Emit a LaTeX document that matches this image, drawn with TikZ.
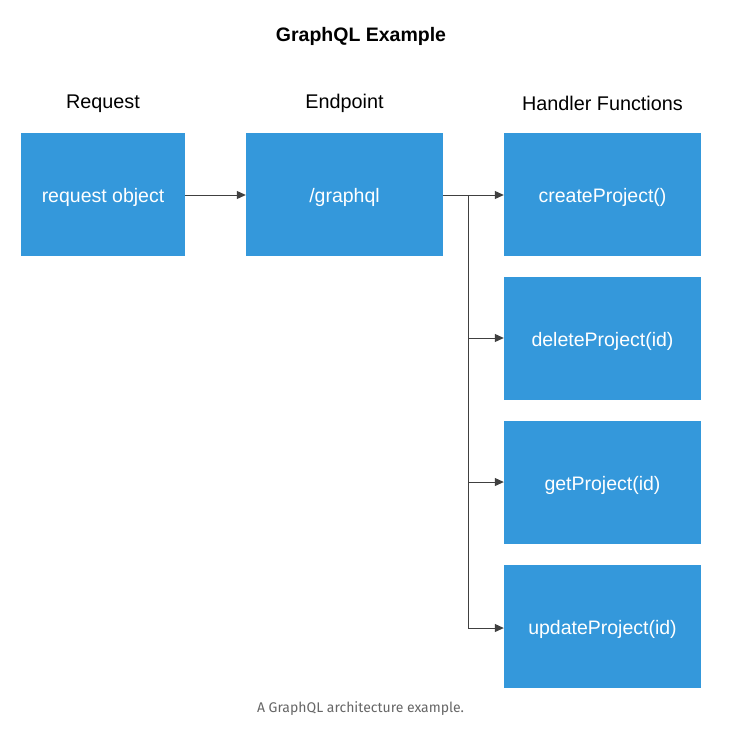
\documentclass[tikz,border=0pt]{standalone}
\usepackage{fontspec}
\setmainfont{Liberation Sans}
\newfontfamily\capfont{Fira Sans}
\usetikzlibrary{arrows.meta}
\definecolor{boxblue}{HTML}{3498DB}
\definecolor{capgray}{HTML}{666666}
\begin{document}
\begin{tikzpicture}[x=1pt,y=-1pt,
  blk/.style={fill=boxblue,draw=none,text=white,minimum width=197pt,minimum height=123pt,inner sep=0pt,text height=17pt,text depth=1pt,font=\fontsize{19.5}{23}\selectfont},
  hdr/.style={font=\fontsize{19.8}{23}\selectfont,inner sep=0pt},
  conn/.style={draw=black!75,line width=1pt},
  arr/.style={conn,-{Triangle[length=9pt,width=8pt]}}]
\useasboundingbox (0,0) rectangle (751,747);
\node[font=\bfseries\fontsize{19.5}{23}\selectfont,inner sep=0pt] (title) at (361,36) {GraphQL Example};
\node[hdr] (h1) at (103,103.5) {Request};
\node[hdr] (h2) at (344.5,103.5) {Endpoint};
\node[hdr] (h3) at (602.5,103.5) {Handler Functions};
\node[blk,minimum width=164pt] (req) at (103,194.5) {request object};
\node[blk] (gql) at (344.5,194.5) {/graphql};
\node[blk] (cp) at (602.5,194.5) {createProject()};
\node[blk] (dp) at (602.5,338) {deleteProject(id)};
\node[blk] (gp) at (602.5,482) {getProject(id)};
\node[blk] (up) at (602.5,626) {updateProject(id)};
\coordinate (j0) at (468,195);
\coordinate (j3) at (468,628);
\draw[arr] (req.east |- 0,195) -- (gql.west |- 0,195);
\draw[arr] (gql.east |- 0,195) -- (cp.west |- 0,195);
\draw[conn] (j0) -- (j3);
\draw[arr] (j0 |- 0,338) -- (dp.west |- 0,338);
\draw[arr] (j0 |- 0,482) -- (gp.west |- 0,482);
\draw[arr] (j3) -- (up.west |- j3);
\node[font=\capfont\fontsize{14}{17}\selectfont,text=capgray,inner sep=0pt] (cap) at (360.5,709) {A GraphQL architecture example.};
\end{tikzpicture}
\end{document}
